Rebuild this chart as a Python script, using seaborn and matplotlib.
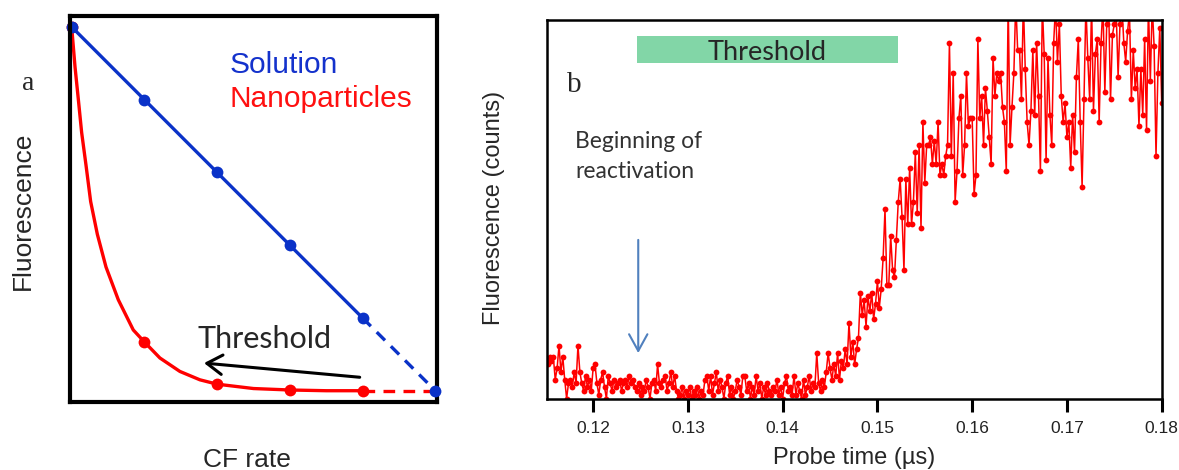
import numpy as np
import matplotlib
matplotlib.use("Agg")
import matplotlib.pyplot as plt
from matplotlib.patches import Rectangle
import seaborn as sns

# ---- panel a : schematic fluorescence vs CF rate ----
cf_rate = [0, 1, 2, 3, 4, 5]
solution = [1.0, 0.8, 0.6, 0.4, 0.2, 0.0]
nano_pts = [1.0, 0.134, 0.018, 0.003, 0.0, 0.0]
nano_curve_x = [0, 0.046, 0.092, 0.137, 0.197, 0.261, 0.353, 0.472, 0.641, 0.847,
                1.0, 1.213, 1.488, 1.763, 2.0, 2.5, 3.0, 3.5, 4.0]
nano_curve_y = [1.0, 0.89, 0.80, 0.71, 0.62, 0.52, 0.43, 0.34, 0.25, 0.167,
                0.134, 0.09, 0.053, 0.03, 0.018, 0.006, 0.002, 0.0, 0.0]

# ---- panel b : fluorescence counts vs probe time ----
t_start, t_step = 0.1152, 0.0002
counts = [
    9, 11, 10, 11, 5, 8, 14, 7, 11, 5, 0, 4, 5, 3, 7, 4, 14, 7, 4, 2,
    6, 3, 5, 2, 8, 9, 4, 1, 5, 7, 3, 0, 6, 4, 2, 5, 3, 4, 5, 2,
    4, 5, 3, 6, 4, 5, 3, 2, 4, 1, 3, 2, 5, 3, 0, 4, 5, 2, 9, 4,
    3, 5, 6, 2, 4, 7, 3, 6, 2, 0, 1, 3, 0, 2, 1, 3, 0, 2, 1, 3,
    0, 2, 1, 5, 6, 2, 6, 1, 4, 7, 2, 5, 3, 0, 4, 6, 1, 3, 0, 2,
    5, 3, 1, 6, 6, 2, 4, 0, 3, 1, 6, 2, 4, 0, 3, 1, 4, 2, 1, 3,
    2, 5, 1, 3, 0, 4, 6, 2, 3, 1, 6, 1, 4, 2, 0, 5, 1, 3, 6, 2,
    4, 3, 12, 4, 2, 5, 3, 7, 12, 8, 5, 9, 6, 12, 5, 10, 8, 13, 9, 20,
    11, 15, 9, 13, 16, 28, 22, 26, 19, 27, 23, 28, 21, 25, 31, 24, 29, 37, 50, 30,
    30, 43, 34, 32, 42, 52, 58, 48, 34, 58, 46, 61, 46, 52, 65, 49, 67, 45, 73, 57,
    67, 67, 69, 62, 68, 62, 73, 59, 62, 59, 64, 67, 94, 64, 86, 52, 60, 74, 80, 59,
    67, 86, 72, 74, 74, 54, 59, 95, 74, 80, 67, 82, 76, 69, 62, 90, 80, 86, 84, 86,
    77, 73, 60, 105, 67, 77, 86, 105, 92, 92, 79, 105, 87, 73, 67, 76, 92, 75, 94, 80,
    60, 104, 91, 63, 90, 75, 67, 94, 104, 89, 99, 80, 73, 78, 69, 73, 61, 75, 65, 85,
    95, 73, 56, 79, 104, 90, 79, 104, 76, 91, 95, 73, 94, 104, 81, 99, 104, 79, 96, 99,
    102, 85, 99, 104, 94, 89, 97, 102, 79, 92, 82, 87, 72, 87, 75, 95, 71, 104, 84, 104,
    93, 64, 86, 98, 78,
]
probe_time = t_start + t_step * np.arange(len(counts))
time_ticks = [0.12, 0.13, 0.14, 0.15, 0.16, 0.17, 0.18]

sns.set_theme(style="white")
plt.rcParams["font.family"] = ["Liberation Sans", "DejaVu Sans"]

W, H = 1179, 470


def fpos(x, y):
    # pixel position in the figure -> figure fraction
    return x / W, 1 - y / H


fig = plt.figure(figsize=(W / 100, H / 100), dpi=100, facecolor="white")
ax1 = fig.add_axes([70 / W, 1 - 402 / H, 367 / W, 386 / H])
ax2 = fig.add_axes([546.7 / W, 1 - 398.5 / H, 615 / W, 378.5 / H])

blue = "#0A32C8"
red = "#FF0000"

# panel a
sns.lineplot(x=nano_curve_x, y=nano_curve_y, ax=ax1, color=red, lw=2.4)
sns.lineplot(x=cf_rate[4:], y=nano_pts[4:], ax=ax1, color=red, lw=2.4,
             linestyle=(0, (3.5, 2.5)))
sns.lineplot(x=cf_rate[:5], y=nano_pts[:5], ax=ax1, color=red, lw=0,
             marker="o", markersize=8.5, markeredgewidth=0, clip_on=False)
sns.lineplot(x=cf_rate[:5], y=solution[:5], ax=ax1, color=blue, lw=2.4,
             marker="o", markersize=8.5, markeredgewidth=0, clip_on=False)
sns.lineplot(x=cf_rate[4:], y=solution[4:], ax=ax1, color=blue, lw=2.4,
             linestyle=(0, (3.5, 2.5)))
sns.lineplot(x=cf_rate[5:], y=solution[5:], ax=ax1, color=blue, lw=0,
             marker="o", markersize=8.5, markeredgewidth=0, clip_on=False, zorder=5)
ax1.annotate("", xy=(1.82, 0.076), xytext=(3.96, 0.037),
             arrowprops=dict(arrowstyle="->,head_length=0.55,head_width=0.35",
                             lw=2.2, color="black", mutation_scale=20,
                             shrinkA=0, shrinkB=0))
ax1.set_xlim(-0.023, 5.023)
ax1.set_ylim(-0.031, 1.030)
ax1.set_xticks([])
ax1.set_yticks([])
ax1.set_xlabel("")
ax1.set_ylabel("")
for sp in ax1.spines.values():
    sp.set_visible(True)
    sp.set_color("black")
    sp.set_linewidth(3)

# panel b
sns.lineplot(x=probe_time, y=counts, ax=ax2, color=red, lw=1.1, marker="o",
             markersize=4.2, markeredgewidth=0)
ax2.add_patch(Rectangle((0.12465, 88.6), 0.02749, 7.3, facecolor="#82D6A7",
                        edgecolor="none", zorder=4))
ax2.annotate("", xy=(0.12476, 12.0), xytext=(0.12476, 41.9),
             arrowprops=dict(arrowstyle="->,head_length=0.6,head_width=0.33",
                             lw=1.5, color="#5080BE", mutation_scale=20,
                             shrinkA=0, shrinkB=0))
ax2.set_xlim(0.1152 - 0.0001, 0.18)
ax2.set_ylim(0, 100)
ax2.set_yticks([])
ax2.set_xticks(time_ticks)
ax2.set_xticklabels([f"{v:.2f}" for v in time_ticks], fontsize=12.5)
ax2.tick_params(axis="x", direction="out", length=9, width=2.2, pad=7,
                color="black", labelcolor="#222222", bottom=True)
ax2.set_xlabel("")
ax2.set_ylabel("")
for sp in ax2.spines.values():
    sp.set_visible(True)
    sp.set_color("black")
    sp.set_linewidth(1.8)

# texts
fig.text(*fpos(22, 90), "a", fontsize=20, family="Liberation Serif", va="baseline")
fig.text(*fpos(567, 92), "b", fontsize=21, family="Liberation Serif", va="baseline")
fig.text(*fpos(230, 73), "Solution", fontsize=21.5, color="#1432CC", va="baseline")
fig.text(*fpos(230, 107), "Nanoparticles", fontsize=21.5, color="#FF1010", va="baseline")
fig.text(*fpos(198, 348), "Threshold", fontsize=22, family="Lato", va="baseline")
fig.text(*fpos(767, 60), "Threshold", fontsize=19.5, family="Lato", va="baseline",
         ha="center", zorder=6)
fig.text(*fpos(575, 148), "Beginning of", fontsize=16.5, family="Lato",
         color="#333333", va="baseline")
fig.text(*fpos(575, 178), "reactivation", fontsize=16.5, family="Lato",
         color="#333333", va="baseline")
fig.text(*fpos(23, 211), "Fluorescence", fontsize=19, rotation=90,
         ha="center", va="center")
fig.text(*fpos(247, 467), "CF rate", fontsize=19, ha="center", va="baseline")
fig.text(*fpos(494, 208), "Fluorescence (counts)", fontsize=17, rotation=90,
         ha="center", va="center")
fig.text(*fpos(854, 464), "Probe time (µs)", fontsize=17, ha="center", va="baseline")

fig.savefig("out.png", dpi=100, facecolor="white")
